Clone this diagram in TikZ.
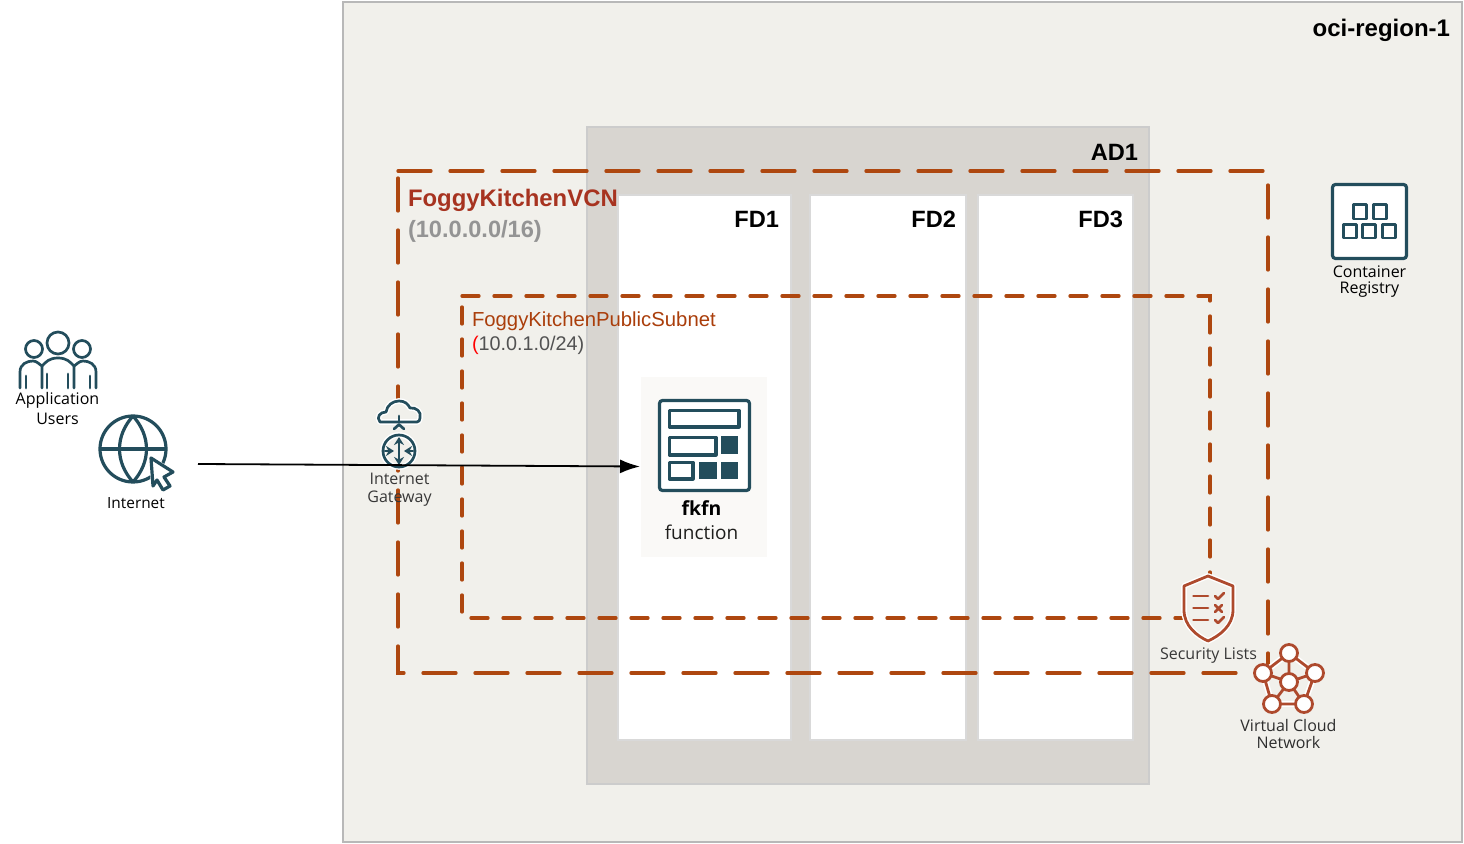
\documentclass[tikz,border=0pt]{standalone}
\usepackage{fontspec}
\setmainfont{Open Sans}
\newfontfamily\hv{Liberation Sans}
\usetikzlibrary{arrows.meta}
\definecolor{icoteal}{HTML}{234D5C}
\definecolor{rust}{HTML}{AE470F}
\definecolor{secred}{HTML}{AE4A2D}
\definecolor{regionbg}{HTML}{F1F0EB}
\definecolor{adbg}{HTML}{D8D5D0}
\definecolor{txt}{HTML}{1E1E1C}
\definecolor{vcntxt}{HTML}{A73320}
\definecolor{subtxt}{HTML}{AA3E0B}
\definecolor{fnbg}{HTML}{FAF9F7}
\newcommand{\fs}[2]{\fontsize{#1}{#2}\selectfont}
\tikzset{
  x=0.5pt,y=-0.5pt,
  every node/.style={inner sep=0pt,outer sep=0pt},
  regionbox/.style={draw=black!28,fill=regionbg,line width=0.9pt},
  adbox/.style={draw=black!20,fill=adbg,line width=0.9pt},
  fdbox/.style={draw=black!15,fill=white,line width=0.6pt},
  vcnline/.style={draw=rust,line width=1.65pt,line cap=round,dash pattern=on 16.5pt off 9.5pt},
  subline/.style={draw=rust,line width=1.65pt,line cap=round,dash pattern=on 8.5pt off 7.5pt},
  ico/.style={draw=icoteal,line width=1.6pt,line join=round},
  icothin/.style={draw=icoteal,line width=1.35pt,line join=round,line cap=round},
  halo/.style={draw=white,line width=2.8pt,line join=round},
  red/.style={draw=secred,line width=1.4pt,line join=round,line cap=round},
  lab/.style={align=center,text=txt},
  title/.style={font=\hv\bfseries\fs{11.8}{12},text=black},
}
\begin{document}
\begin{tikzpicture}
\useasboundingbox (0,0) rectangle (1464,844);
\fill[white] (0,0) rectangle (1464,844);
% containers
\draw[regionbox] (343,2) rectangle (1462,842);
\draw[adbox] (587,127) rectangle (1149,784);
\draw[fdbox] (618,195) rectangle (791,740);
\draw[fdbox] (810,195) rectangle (966,740);
\draw[fdbox] (978,195) rectangle (1133,740);
\node[font=\hv\bfseries\fs{12}{12},text=black,anchor=base east] (region) at (1450,37) {oci-region-1};
\node[title,anchor=base east] (ad) at (1138,161) {AD1};
\node[title,anchor=base east] (fda) at (779,228) {FD1};
\node[title,anchor=base east] (fdb) at (956,228) {FD2};
\node[title,anchor=base east] (fdc) at (1123,228) {FD3};
% VCN and subnet
\draw[vcnline] (398,171) -- (1268,171) -- (1268,673) -- (398,673) -- cycle;
\draw[subline] (462,296) -- (1210,296) -- (1210,618) -- (462,618) -- cycle;
\node[anchor=base west,font=\hv\bfseries\fs{11.95}{12},text=vcntxt] (vcnname) at (408,206.5) {FoggyKitchenVCN};
\node[anchor=base west,font=\hv\bfseries\fs{11.8}{12},text=black!42] (vcncidr) at (408,237.5) {(10.0.0.0/16)};
\node[anchor=base west,font=\hv\fs{10.15}{12},text=subtxt] (subname) at (472,326.5) {FoggyKitchenPublicSubnet};
\node[anchor=base west,font=\hv\fs{9.9}{12},text=black!68] (subcidr) at (472,351) {{\color{red}(}10.0.1.0/24)};
% function
\fill[fnbg] (641,377) rectangle (767,557);
\node[draw=icoteal,line width=1.6pt,fill=white,rounded corners=1.5pt,minimum width=45pt,minimum height=45pt] (fkfn) at (704.5,445.5) {};
\draw[ico] (669.5,410.5) rectangle (739,427);
\draw[ico] (669.5,437.5) rectangle (716,455);
\draw[ico] (669.5,462.5) rectangle (693,479);
\fill[icoteal] (721,436) rectangle (738,454);
\fill[icoteal] (699,462) rectangle (717,479);
\fill[icoteal] (721,462) rectangle (738,479);
\node[font=\bfseries\fs{9.7}{12},text=black,anchor=base] (fkname) at (701.5,516) {fkfn};
\node[font=\fs{9.5}{12},text=txt,anchor=base] (fkkind) at (701.5,540) {function};
% users
\begin{scope}[icothin]
\draw (58,343) circle (11);
\draw (34,349) circle (8.5);
\draw (82,349) circle (8.5);
\draw (20,388) -- (20,372) .. controls (20,364) and (27,361) .. (33,361) .. controls (37,361) and (40,365) .. (42,366) -- (42,388);
\draw (42,366) .. controls (46,362) and (49,358) .. (58,358) .. controls (67,358) and (70,362) .. (74,366) -- (74,388);
\draw (74,366) .. controls (76,365) and (79,361) .. (83,361) .. controls (89,361) and (96,364) .. (96,372) -- (96,388);
\draw (26,376) -- (26,388);
\draw (47,374) -- (47,388);
\draw (68,374) -- (68,388);
\draw (90,376) -- (90,388);
\end{scope}
\node[lab,font=\fs{8}{10},text=black,anchor=base] (users) at (57.5,425) {Application\\Users};
% internet
\draw[ico] (133,449) circle (33);
\draw[ico] (100,449) -- (166,449);
\draw[ico] (133,416) .. controls (115,436) and (115,462) .. (133,482);
\draw[ico] (133,416) .. controls (151,436) and (151,462) .. (133,482);
\path[fill=white,draw=white,line width=2pt,line join=round] (151,458) -- (173,472) -- (164,477) -- (170,486) -- (163,490) -- (157,480) -- (153,486) -- cycle;
\draw[ico] (151,458) -- (173,472) -- (164,477) -- (170,486) -- (163,490) -- (157,480) -- (153,486) -- cycle;
\node[lab,font=\fs{7.7}{10},text=black,anchor=base] (internet) at (136,509) {Internet};
% gateway
\def\cloudpath{(380,422) .. controls (376,417) and (380,412) .. (386,412) .. controls (387,405) and (393,401) .. (399,401) .. controls (405,401) and (408,404) .. (410,408) .. controls (416,407) and (422,412) .. (420,418) .. controls (420,420) and (419,422) .. (417,422) -- cycle}
\draw[halo,fill=regionbg] \cloudpath;
\draw[icothin] \cloudpath;
\draw[icothin] (394,429) -- (399,424.5) -- (404,429);
\draw[icothin] (399,416) -- (399,421);
\draw[halo,fill=regionbg] (399,451) circle (16);
\draw[icothin] (399,451) circle (16);
\begin{scope}[icothin,-{Stealth[length=4pt,width=5pt]}]
\draw (399,451) -- (399,437);
\draw (399,451) -- (399,465);
\draw (385,451) -- (394,451);
\draw (413,451) -- (404,451);
\end{scope}
\node[lab,font=\fs{8}{9},text=black!78,anchor=base] (igwlab) at (399.5,502.5) {Internet\\Gateway};
% registry
\node[draw=icoteal,line width=1.6pt,fill=white,rounded corners=1.5pt,minimum width=37pt,minimum height=37pt] (reg) at (1369.5,221.5) {};
\begin{scope}[ico,line width=1.4pt]
\draw (1353.5,204.5) rectangle (1366.5,219);
\draw (1373.5,204.5) rectangle (1386.5,219);
\draw (1343.5,224.5) rectangle (1356.5,238);
\draw (1362.5,224.5) rectangle (1375.5,238);
\draw (1382.5,224.5) rectangle (1395.5,238);
\end{scope}
\node[lab,font=\fs{8}{8},text=black,anchor=base] (reglab) at (1369.5,294) {Container\\Registry};
% security lists
\def\shieldpath{(1208,576) -- (1184,586) -- (1184,610) .. controls (1184,626) and (1197,636) .. (1208,641) .. controls (1219,636) and (1233,626) .. (1233,610) -- (1233,586) -- cycle}
\draw[white,line width=2.8pt,line join=round,fill=regionbg] \shieldpath;
\draw[red] \shieldpath;
\begin{scope}[red]
\draw (1193.5,596) -- (1208,596) (1193.5,608) -- (1208,608) (1193.5,620) -- (1208,620);
\draw (1215,596) -- (1218,599) -- (1224,593);
\draw (1215,605) -- (1222,612) (1222,605) -- (1215,612);
\draw (1215,620) -- (1218,623) -- (1224,617);
\end{scope}
\node[lab,font=\fs{8}{9},text=black!78,anchor=base] (seclab) at (1208.5,660) {Security Lists};
% VCN icon
\draw[white,line width=3pt,line join=round,fill=regionbg] (1289,653) -- (1315,673) -- (1304,704) -- (1272,704) -- (1263,673) -- cycle;
\draw[red] (1289,653) -- (1315,673) -- (1304,704) -- (1272,704) -- (1263,673) -- cycle;
\draw[red] (1289,682) -- (1289,653) (1289,682) -- (1315,673) (1289,682) -- (1304,704) (1289,682) -- (1272,704) (1289,682) -- (1263,673);
\foreach \p in {(1289,653),(1263,673),(1315,673),(1272,704),(1304,704),(1289,682)}
  \draw[red,fill=white] \p circle (8.5);
\node[lab,font=\fs{8}{9},text=black!82,anchor=base] (vcnlab) at (1288.5,749) {Virtual Cloud\\Network};
% connector
\coordinate (start) at (198,464);
\coordinate (fnin) at (640,466.5);
\draw[black,line width=0.9pt,-{Latex[length=10pt,width=7pt]}] (start) -- (fnin);
\end{tikzpicture}
\end{document}
